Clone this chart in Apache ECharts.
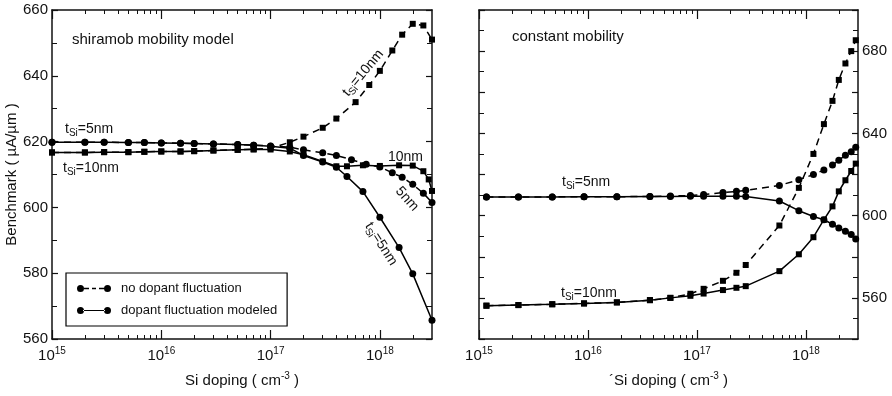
<!DOCTYPE html>
<html>
<head>
<meta charset="utf-8">
<script src="https://cdn.jsdelivr.net/npm/echarts@6/dist/echarts.min.js"></script>
<style>
  html, body { margin: 0; padding: 0; background: #fff; }
  #chart { width: 892px; height: 396px; }
</style>
</head>
<body>
<div id="chart"></div>
<script>
// x-axis decades and minor tick positions
const decadeTicks = [1e15, 1e16, 1e17, 1e18];
const minorTicks = [2e15, 3e15, 4e15, 5e15, 6e15, 7e15, 8e15, 9e15,
    2e16, 3e16, 4e16, 5e16, 6e16, 7e16, 8e16, 9e16,
    2e17, 3e17, 4e17, 5e17, 6e17, 7e17, 8e17, 9e17, 2e18];

// left panel: shiramob mobility model
const left10nmNoFlucX = [1e15, 2e15, 3e15, 5e15, 7e15, 1e16, 1.5e16, 2e16, 3e16, 5e16, 7e16, 1e17, 1.5e17, 2e17, 3e17, 4e17, 6e17, 8e17, 1e18, 1.3e18, 1.6e18, 2e18, 2.5e18, 3e18];
const left10nmNoFlucY = [616.7, 616.7, 616.8, 616.8, 616.9, 617.0, 617.0, 617.1, 617.3, 617.5, 617.7, 618.0, 619.8, 621.5, 624.2, 627.0, 632.0, 637.2, 641.5, 647.7, 652.5, 655.8, 655.3, 651.0];
const left10nmFlucX = [1e15, 2e15, 3e15, 5e15, 7e15, 1e16, 1.5e16, 2e16, 3e16, 5e16, 7e16, 1e17, 1.5e17, 2e17, 3e17, 4e17, 5e17, 7e17, 1e18, 1.5e18, 2e18, 2.5e18, 2.8e18, 3e18];
const left10nmFlucY = [616.7, 616.7, 616.8, 616.8, 616.9, 617.0, 617.0, 617.1, 617.3, 617.5, 617.6, 617.6, 617.0, 616.0, 614.0, 612.5, 612.5, 612.8, 612.6, 612.8, 612.7, 611.0, 608.5, 605.0];
const left5nmNoFlucX = [1e15, 2e15, 3e15, 5e15, 7e15, 1e16, 1.5e16, 2e16, 3e16, 5e16, 7e16, 1e17, 1.5e17, 2e17, 3e17, 4e17, 5.5e17, 7.5e17, 1e18, 1.3e18, 1.6e18, 2e18, 2.5e18, 3e18];
const left5nmNoFlucY = [619.8, 619.8, 619.8, 619.7, 619.7, 619.6, 619.5, 619.4, 619.3, 619.1, 618.9, 618.7, 618.3, 617.5, 616.6, 615.8, 614.5, 613.1, 612.3, 610.5, 609.2, 607.0, 604.3, 601.5];
const left5nmFlucX = [1e15, 2e15, 3e15, 5e15, 7e15, 1e16, 1.5e16, 2e16, 3e16, 5e16, 7e16, 1e17, 1.5e17, 2e17, 3e17, 4e17, 5e17, 7e17, 1e18, 1.5e18, 2e18, 3e18];
const left5nmFlucY = [619.8, 619.8, 619.8, 619.7, 619.7, 619.6, 619.5, 619.4, 619.3, 619.1, 618.9, 618.6, 618.0, 615.8, 613.8, 612.2, 609.4, 604.8, 597.0, 587.8, 579.8, 565.7];

// right panel: constant mobility
const rightX = [1.17e15, 2.3e15, 4.7e15, 9.2e15, 1.84e16, 3.7e16, 5.7e16, 8.7e16, 1.15e17, 1.73e17, 2.3e17, 2.8e17, 5.7e17, 8.6e17, 1.17e18, 1.46e18, 1.75e18, 2.0e18, 2.3e18, 2.6e18, 2.86e18];
const right5nmFluc = [609.1, 609.1, 609.1, 609.2, 609.2, 609.3, 609.3, 609.4, 609.4, 609.4, 609.4, 609.3, 607.1, 602.4, 599.6, 598.0, 595.8, 594.0, 592.4, 590.8, 588.6];
const right5nmNoFluc = [609.1, 609.1, 609.1, 609.2, 609.2, 609.3, 609.5, 609.8, 610.3, 611.2, 611.8, 612.3, 614.7, 617.4, 620.0, 622.2, 624.6, 626.9, 629.4, 631.1, 633.2];
const right10nmFluc = [556.2, 556.5, 556.9, 557.3, 557.8, 558.9, 560.0, 561.0, 562.1, 563.8, 564.9, 565.7, 573.0, 581.2, 589.5, 598.0, 604.5, 611.8, 617.2, 621.7, 625.3];
const right10nmNoFluc = [556.2, 556.5, 556.9, 557.3, 557.8, 558.9, 560.0, 562.0, 564.4, 568.3, 572.2, 576.0, 595.2, 613.5, 630.0, 644.5, 655.8, 666.0, 674.0, 680.0, 685.3];

const NO_FLUC = 'no dopant fluctuation';
const FLUC = 'dopant fluctuation modeled';

const font = "'Liberation Sans', Arial, Helvetica, sans-serif";
const ink = '#111';

const chart = echarts.init(document.getElementById('chart'), null, { renderer: 'canvas' });

function pairs(xs, ys) {
    return xs.map((x, i) => [x, ys[i]]);
}

// 10^n label as rich text
function powLabel(v) {
    const e = Math.round(Math.log10(v));
    return '{b|10}{s|' + e + '}';
}

// four x axes per panel: bottom / top, each with decade + minor ticks
function xAxesFor(grid) {
    const base = {
        type: 'log', logBase: 10, gridIndex: grid, min: 1e15, max: 3e18,
        splitLine: { show: false }
    };
    const line = { show: true, lineStyle: { color: ink, width: 1.5 } };
    return [
        Object.assign({}, base, {
            position: 'bottom', axisLine: line,
            axisTick: { show: true, inside: true, length: 9, customValues: decadeTicks, lineStyle: { color: ink, width: 1.2 } },
            axisLabel: {
                show: true, customValues: decadeTicks, margin: 7, formatter: powLabel,
                rich: {
                    b: { fontSize: 15, fontFamily: font, color: ink, lineHeight: 20 },
                    s: { fontSize: 10, fontFamily: font, color: ink, lineHeight: 10, verticalAlign: 'top' }
                }
            },
            name: (grid === 0 ? '' : '´') + 'Si doping ( cm{sup|-3} )',
            nameLocation: 'middle', nameGap: 32,
            nameTextStyle: {
                fontSize: 15, fontFamily: font, color: ink, lineHeight: 20,
                rich: { sup: { fontSize: 10, fontFamily: font, color: ink, lineHeight: 10, verticalAlign: 'top' } }
            }
        }),
        Object.assign({}, base, {
            position: 'bottom', axisLine: { show: false }, axisLabel: { show: false },
            axisTick: { show: true, inside: true, length: 4, customValues: minorTicks, lineStyle: { color: ink, width: 1 } }
        }),
        Object.assign({}, base, {
            position: 'top', axisLine: line, axisLabel: { show: false },
            axisTick: { show: true, inside: true, length: 9, customValues: decadeTicks, lineStyle: { color: ink, width: 1.2 } }
        }),
        Object.assign({}, base, {
            position: 'top', axisLine: { show: false }, axisLabel: { show: false },
            axisTick: { show: true, inside: true, length: 4, customValues: minorTicks, lineStyle: { color: ink, width: 1 } }
        })
    ];
}

function yAxisFor(grid, pos, showLabel, min, max, labelEvery) {
    return {
        type: 'value', gridIndex: grid, position: pos, min: min, max: max, interval: 20,
        axisLine: { show: true, lineStyle: { color: ink, width: 1.5 } },
        axisTick: { show: true, inside: true, length: 6, lineStyle: { color: ink, width: 1.2 } },
        minorTick: { show: true, splitNumber: 2, length: 5, lineStyle: { color: ink, width: 1 } },
        splitLine: { show: false },
        axisLabel: {
            show: showLabel, margin: 4, fontSize: 15, fontFamily: font, color: ink,
            formatter: v => (v % labelEvery === 0 ? String(v) : '')
        }
    };
}

function lineSeries(name, xi, yi, data, symbol, dashed) {
    return {
        type: 'line', name: name, xAxisIndex: xi, yAxisIndex: yi, data: data,
        symbol: symbol, symbolSize: symbol === 'circle' ? 7 : 6, showAllSymbol: true,
        itemStyle: { color: '#000' },
        lineStyle: { color: '#000', width: 1.5, type: dashed ? [7, 5] : 'solid' },
        z: 3
    };
}

// legend icons: circle - line - circle
const iconDashed = 'path://M0,3.5A3.5,3.5,0,1,0,7,3.5A3.5,3.5,0,1,0,0,3.5Z' +
    'M7,2.8L12,2.8L12,4.2L7,4.2Z M15,2.8L19,2.8L19,4.2L15,4.2Z M22,2.8L27,2.8L27,4.2L22,4.2Z' +
    'M27,3.5A3.5,3.5,0,1,0,34,3.5A3.5,3.5,0,1,0,27,3.5Z';
const iconSolid = 'path://M0,3.5A3.5,3.5,0,1,0,7,3.5A3.5,3.5,0,1,0,0,3.5Z' +
    'M6,2.9L28,2.9L28,4.1L6,4.1Z' +
    'M27,3.5A3.5,3.5,0,1,0,34,3.5A3.5,3.5,0,1,0,27,3.5Z';

const tStyle = {
    t: { fontSize: 14, fontFamily: font, fill: ink, lineHeight: 18 },
    sub: { fontSize: 10, fontFamily: font, fill: ink, lineHeight: 10, verticalAlign: 'bottom' }
};

function note(text, x, y, opts) {
    opts = opts || {};
    return {
        type: 'text', x: x, y: y, rotation: opts.rot || 0, z: 10,
        style: {
            text: text, fontSize: opts.size || 14, fontFamily: font, fill: ink,
            align: opts.align || 'left', verticalAlign: 'middle', rich: tStyle
        }
    };
}

const option = {
    backgroundColor: '#fff',
    animation: false,
    grid: [
        { left: 52, top: 10, width: 380, height: 333 },
        { left: 479, top: 10, width: 379, height: 333 }
    ],
    xAxis: xAxesFor(0).concat(xAxesFor(1)),
    yAxis: [
        Object.assign(yAxisFor(0, 'left', true, 560, 660, 20), {
            name: 'Benchmark ( µA/µm )', nameLocation: 'middle', nameGap: 30,
            nameTextStyle: { fontSize: 15, fontFamily: font, color: ink }
        }),
        yAxisFor(0, 'right', false, 560, 660, 20),
        yAxisFor(1, 'left', false, 540, 700, 40),
        yAxisFor(1, 'right', true, 540, 700, 40)
    ],
    legend: {
        left: 66, top: 273, orient: 'vertical', selectedMode: false,
        padding: [9, 10, 9, 11], itemGap: 9, itemWidth: 34, itemHeight: 7,
        borderColor: '#000', borderWidth: 1.2, backgroundColor: '#fff',
        textStyle: { fontSize: 13, fontFamily: font, color: ink, padding: [0, 0, 0, 5] },
        data: [
            { name: NO_FLUC, icon: iconDashed },
            { name: FLUC, icon: iconSolid }
        ]
    },
    graphic: [
        note('shiramob mobility model', 72, 40, { size: 15 }),
        note('{t|t}{sub|Si}{t|=5nm}', 65, 129),
        note('{t|t}{sub|Si}{t|=10nm}', 63, 168),
        note('10nm', 388, 157),
        note('{t|t}{sub|Si}{t|=10nm}', 363, 73, { align: 'center', rot: 0.88 }),
        note('5nm', 407, 199, { align: 'center', rot: -0.85 }),
        note('{t|t}{sub|Si}{t|=5nm}', 381, 244, { align: 'center', rot: -1.0 }),
        note('constant mobility', 512, 37, { size: 15 }),
        note('{t|t}{sub|Si}{t|=5nm}', 562, 182),
        note('{t|t}{sub|Si}{t|=10nm}', 561, 293)
    ],
    series: [
        lineSeries(NO_FLUC, 0, 0, pairs(left10nmNoFlucX, left10nmNoFlucY), 'rect', true),
        lineSeries(FLUC, 0, 0, pairs(left10nmFlucX, left10nmFlucY), 'rect', false),
        lineSeries(NO_FLUC, 0, 0, pairs(left5nmNoFlucX, left5nmNoFlucY), 'circle', true),
        lineSeries(FLUC, 0, 0, pairs(left5nmFlucX, left5nmFlucY), 'circle', false),
        lineSeries(NO_FLUC, 4, 3, pairs(rightX, right10nmNoFluc), 'rect', true),
        lineSeries(FLUC, 4, 3, pairs(rightX, right10nmFluc), 'rect', false),
        lineSeries(NO_FLUC, 4, 3, pairs(rightX, right5nmNoFluc), 'circle', true),
        lineSeries(FLUC, 4, 3, pairs(rightX, right5nmFluc), 'circle', false)
    ]
};

chart.setOption(option);
</script>
</body>
</html>
